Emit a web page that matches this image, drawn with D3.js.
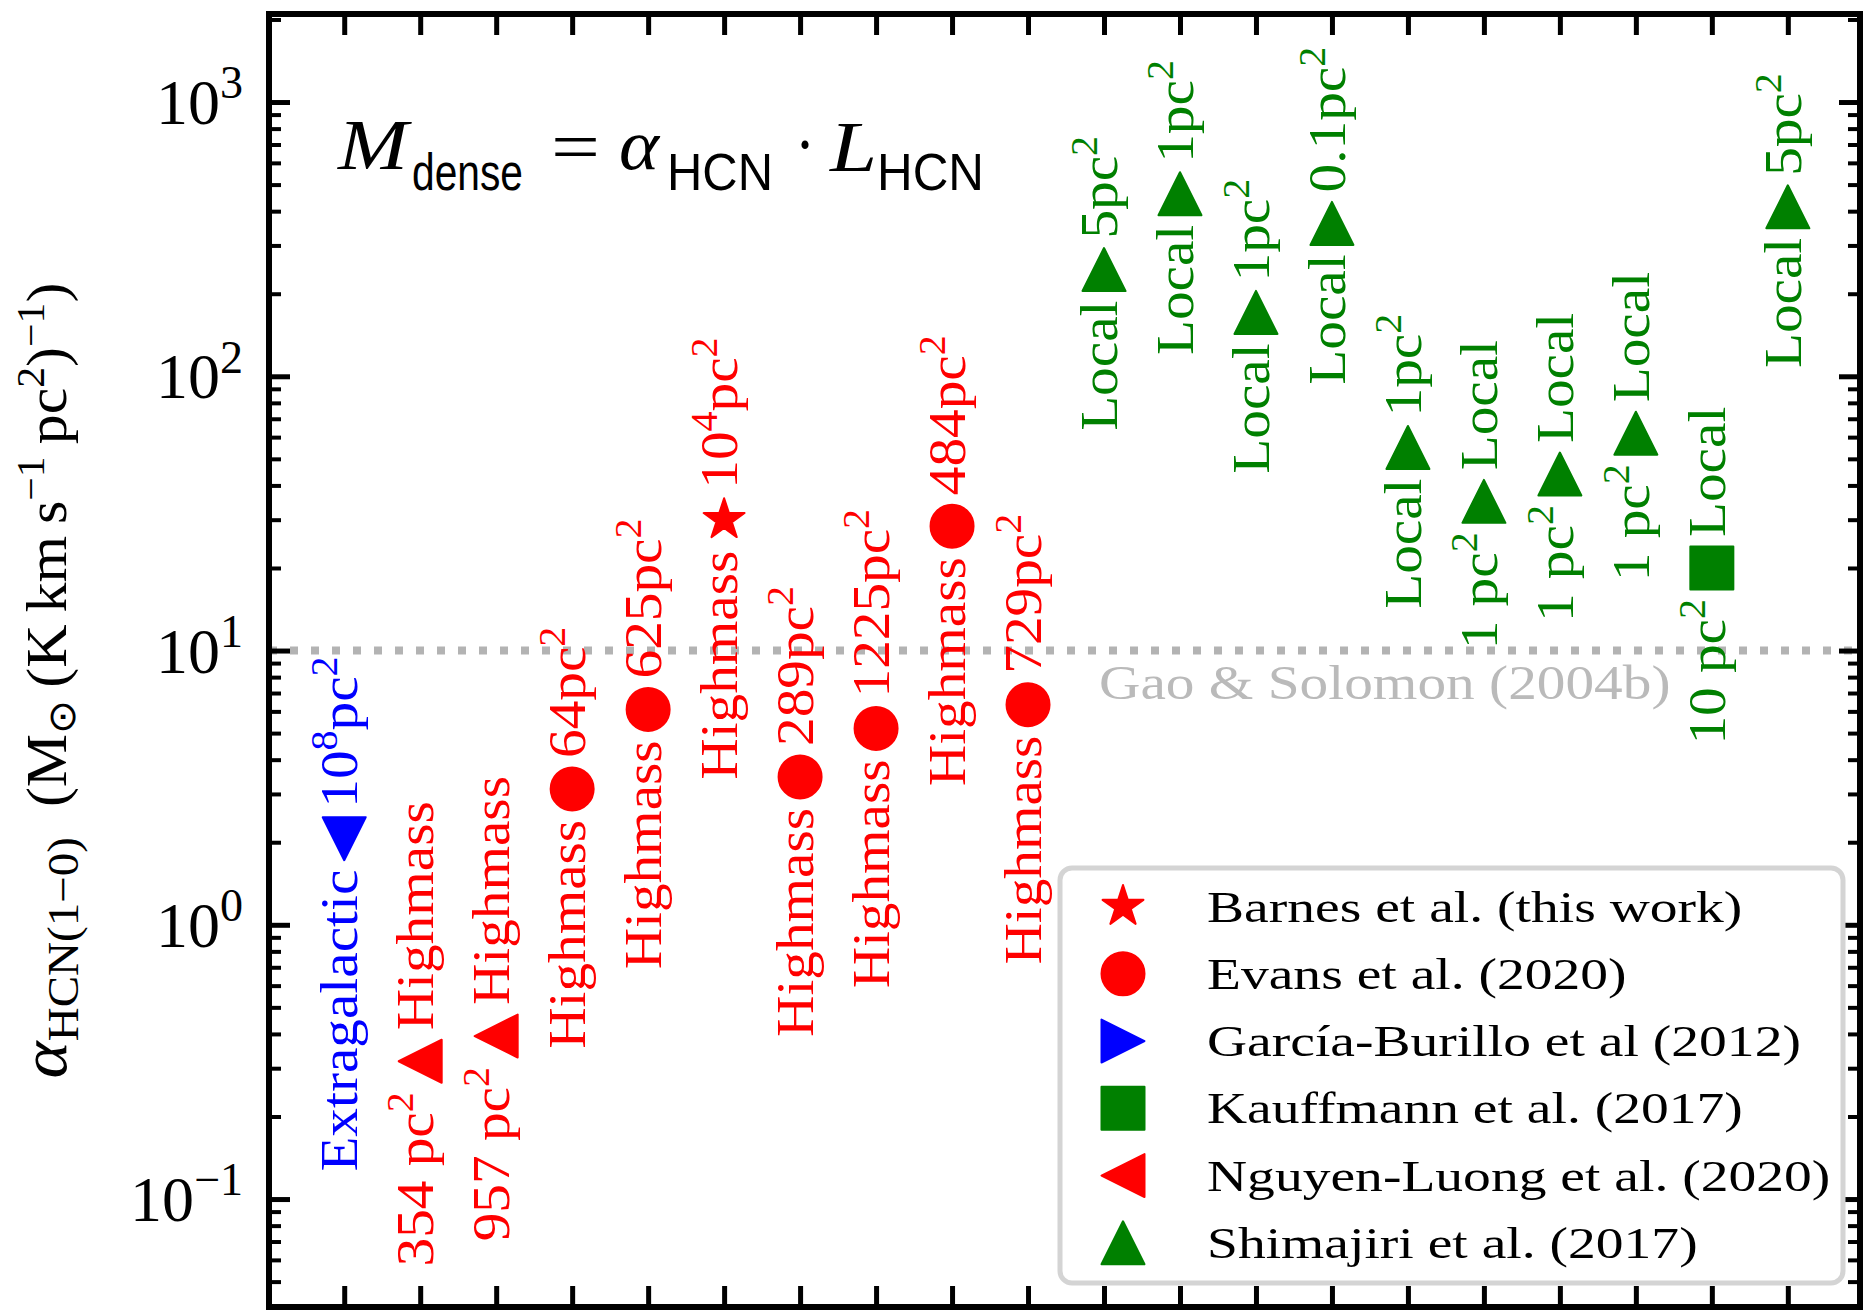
<!DOCTYPE html>
<html>
<head>
<meta charset="utf-8">
<script src="https://cdn.jsdelivr.net/npm/d3@7"></script>
<style>
  body { margin: 0; background: #fff; }
  svg { display: block; }
</style>
</head>
<body>
<svg id="chart" width="1863" height="1312"></svg>
<script>
// ---------------- data ----------------
// one slot per measurement along the (unlabelled) x axis
const slots = [0, 1, 2, 3, 4, 5, 6, 7, 8, 9, 10, 11, 12, 13, 14, 15, 16, 17, 18, 19];

// alpha_HCN(1-0) in Msun (K km s^-1 pc^2)^-1
const alphaHCN = [2.06, 0.318, 0.393, 3.13, 6.1, 30, 3.46, 5.2, 28.4, 6.35,
                  245, 463, 171, 361, 55, 35, 44, 62, 20, 415];

const pointShapes = ["down", "left", "left", "circle", "circle", "star", "circle", "circle", "circle", "circle",
                     "up", "up", "up", "up", "up", "up", "up", "up", "square", "up"];

const pointColors = ["#0000ff", "#ff0000", "#ff0000", "#ff0000", "#ff0000", "#ff0000", "#ff0000", "#ff0000", "#ff0000", "#ff0000",
                     "#008000", "#008000", "#008000", "#008000", "#008000", "#008000", "#008000", "#008000", "#008000", "#008000"];

// text written below and above each marker (^ marks a superscript)
const lowerLabels = ["Extragalactic", "354 pc^2", "957 pc^2", "Highmass", "Highmass", "Highmass", "Highmass", "Highmass", "Highmass", "Highmass",
                     "Local", "Local", "Local", "Local", "Local", "1 pc^2", "1 pc^2", "1 pc^2", "10 pc^2", "Local"];
const upperLabels = ["10^8pc^2", "Highmass", "Highmass", "64pc^2", "625pc^2", "10^4pc^2", "289pc^2", "1225pc^2", "484pc^2", "729pc^2",
                     "5pc^2", "1pc^2", "1pc^2", "0.1pc^2", "1pc^2", "Local", "Local", "Local", "Local", "5pc^2"];

const legendLabels = ["Barnes et al. (this work)", "Evans et al. (2020)", "García-Burillo et al (2012)",
                      "Kauffmann et al. (2017)", "Nguyen-Luong et al. (2020)", "Shimajiri et al. (2017)"];
const legendShapes = ["star", "circle", "right", "square", "left", "up"];
const legendColors = ["#ff0000", "#ff0000", "#0000ff", "#008000", "#ff0000", "#008000"];

const yMajorTicks = [0.1, 1, 10, 100, 1000];
const yTickLabels = ["10^{−1}", "10^0", "10^1", "10^2", "10^3"];

const referenceAlpha = 10;
const referenceLabel = "Gao & Solomon (2004b)";

// ---------------- layout ----------------
const SERIF = "'Liberation Serif', 'Times New Roman', serif";
const SANS = "'Liberation Sans', Arial, sans-serif";
const M = { left: 269, right: 1860, top: 14, bottom: 1307 };

const svg = d3.select("#chart");

const x = d3.scaleLinear().domain([-0.99, 19.95]).range([M.left, M.right]);
const y = d3.scaleLog().domain([0.0404, 2094]).range([M.bottom, M.top]);

// marker outlines centred on (0,0); s is the marker size in px
function markerPath(shape, s) {
  const h = s / 2;
  switch (shape) {
    case "circle": return `M${h},0A${h},${h} 0 1,1 ${-h},0A${h},${h} 0 1,1 ${h},0Z`;
    case "square": return `M${-h},${-h}H${h}V${h}H${-h}Z`;
    case "up":     return `M0,${-h}L${h},${h}L${-h},${h}Z`;
    case "down":   return `M0,${h}L${h},${-h}L${-h},${-h}Z`;
    case "left":   return `M${-h},0L${h},${-h}L${h},${h}Z`;
    case "right":  return `M${h},0L${-h},${-h}L${-h},${h}Z`;
    case "star": {
      const pts = [];
      for (let k = 0; k < 10; k++) {
        const r = k % 2 === 0 ? h : h * 0.381966;
        const a = -Math.PI / 2 + k * Math.PI / 5;
        pts.push([r * Math.cos(a), r * Math.sin(a)]);
      }
      return "M" + pts.map(p => p.join(",")).join("L") + "Z";
    }
  }
  return "";
}

// append plain / superscript runs to a text node; "^x" or "^{...}" is raised
function appendRich(textSel, str, size, supScale = 0.7, supRaise = 0.38) {
  const re = /\^(\{[^}]*\}|.)/g;
  let last = 0, m, raised = false;
  const plain = s => {
    if (!s) return;
    const t = textSel.append("tspan").text(s).attr("font-size", size);
    if (raised) { t.attr("dy", supRaise * size); raised = false; }
  };
  while ((m = re.exec(str)) !== null) {
    plain(str.slice(last, m.index));
    const sup = m[1].replace(/^\{/, "").replace(/\}$/, "");
    const t = textSel.append("tspan").text(sup).attr("font-size", size * supScale);
    if (!raised) t.attr("dy", -supRaise * size);
    raised = true;
    last = re.lastIndex;
  }
  plain(str.slice(last));
}

// ---------------- reference line ----------------
svg.append("line")
  .attr("x1", M.left).attr("x2", M.right)
  .attr("y1", y(referenceAlpha)).attr("y2", y(referenceAlpha))
  .attr("stroke", "#b3b3b3").attr("stroke-width", 8)
  .attr("stroke-dasharray", "8,13");

svg.append("text")
  .attr("transform", `translate(1099,${y(referenceAlpha) + 48}) scale(1.17,1)`)
  .attr("font-family", SERIF).attr("font-size", 49)
  .attr("fill", "#bababa")
  .text(referenceLabel);

// ---------------- markers ----------------
const MS = 43;
svg.append("g").selectAll("path")
  .data(slots)
  .join("path")
  .attr("transform", i => `translate(${x(slots[i])},${y(alphaHCN[i])})`)
  .attr("d", i => markerPath(pointShapes[i], MS))
  .attr("fill", i => pointColors[i])
  .attr("stroke", i => pointColors[i])
  .attr("stroke-width", 2)
  .attr("stroke-linejoin", "round");

// ---------------- rotated annotations ----------------
const ANN = 53, GAP = 31, ANN_SX = 1.08;
const annG = svg.append("g").attr("font-family", SERIF).attr("font-size", ANN);
slots.forEach(i => {
  const cx = x(slots[i]), cy = y(alphaHCN[i]);
  const lo = annG.append("text")
    .attr("transform", `translate(${cx},${cy + GAP}) rotate(-90) scale(${ANN_SX},1)`)
    .attr("y", 0.25 * ANN)
    .attr("text-anchor", "end")
    .attr("fill", pointColors[i]);
  appendRich(lo, lowerLabels[i], ANN);
  const up = annG.append("text")
    .attr("transform", `translate(${cx},${cy - GAP}) rotate(-90) scale(${ANN_SX},1)`)
    .attr("y", 0.25 * ANN)
    .attr("text-anchor", "start")
    .attr("fill", pointColors[i]);
  appendRich(up, upperLabels[i], ANN);
});

// ---------------- axes (inward ticks on all four sides) ----------------
const isMajor = v => Math.abs(Math.log10(v) - Math.round(Math.log10(v))) < 1e-9;
const yMinor = y.ticks().filter(v => !isMajor(v));

function styleAxis(g, width) {
  g.select(".domain").remove();
  g.selectAll(".tick line").attr("stroke", "#000").attr("stroke-width", width);
  g.selectAll(".tick text").remove();
}

svg.append("g").attr("transform", `translate(${M.left},0)`)
  .call(d3.axisLeft(y).tickValues(yMajorTicks).tickSize(-21).tickFormat(""))
  .call(g => styleAxis(g, 5));
svg.append("g").attr("transform", `translate(${M.left},0)`)
  .call(d3.axisLeft(y).tickValues(yMinor).tickSize(-12).tickFormat(""))
  .call(g => styleAxis(g, 4));
svg.append("g").attr("transform", `translate(${M.right},0)`)
  .call(d3.axisRight(y).tickValues(yMajorTicks).tickSize(-21).tickFormat(""))
  .call(g => styleAxis(g, 5));
svg.append("g").attr("transform", `translate(${M.right},0)`)
  .call(d3.axisRight(y).tickValues(yMinor).tickSize(-12).tickFormat(""))
  .call(g => styleAxis(g, 4));
svg.append("g").attr("transform", `translate(0,${M.bottom})`)
  .call(d3.axisBottom(x).tickValues(slots).tickSize(-21).tickFormat(""))
  .call(g => styleAxis(g, 5));
svg.append("g").attr("transform", `translate(0,${M.top})`)
  .call(d3.axisTop(x).tickValues(slots).tickSize(-21).tickFormat(""))
  .call(g => styleAxis(g, 5));

// frame
svg.append("rect")
  .attr("x", M.left).attr("y", M.top)
  .attr("width", M.right - M.left).attr("height", M.bottom - M.top)
  .attr("fill", "none").attr("stroke", "#000").attr("stroke-width", 6);

// y tick labels
const TICK = 64;
yMajorTicks.forEach((v, i) => {
  const t = svg.append("text")
    .attr("x", M.left - 26).attr("y", y(v) + 22)
    .attr("text-anchor", "end")
    .attr("font-family", SERIF).attr("font-size", TICK)
    .attr("fill", "#000");
  appendRich(t, yTickLabels[i], TICK, 0.72, 0.4);
});

// y axis title
const YL = 56;
const yl = svg.append("text")
  .attr("transform", `translate(66,${(M.top + M.bottom) / 2 + 20}) rotate(-90) scale(1.07,1)`)
  .attr("text-anchor", "middle")
  .attr("font-family", SERIF).attr("font-size", YL).attr("fill", "#000");
yl.append("tspan").text("α").attr("font-style", "italic").attr("font-size", 66);
yl.append("tspan").text("HCN(1−0)").attr("font-size", 44).attr("dy", 12);
yl.append("tspan").text("\u2002(M").attr("dy", -12);
yl.append("tspan").text("⊙").attr("font-size", 38).attr("dy", 9);
yl.append("tspan").text("\u2009(K\u2009km\u2009s").attr("dy", -9);
yl.append("tspan").text("−1").attr("font-size", 39).attr("dy", -22);
yl.append("tspan").text("\u2009pc").attr("dy", 22);
yl.append("tspan").text("2").attr("font-size", 39).attr("dy", -22);
yl.append("tspan").text(")").attr("dy", 22);
yl.append("tspan").text("−1").attr("font-size", 39).attr("dy", -22);
yl.append("tspan").text(")").attr("dy", 22);

// ---------------- formula ----------------
const formulaPieces = [
  { t: "M",     x: 338, w: 70,  fam: SERIF, italic: true,  size: 72, base: 169 },
  { t: "dense", x: 412, w: 111, fam: SANS,  italic: false, size: 52, base: 190 },
  { t: "=",     x: 551, w: 49,  fam: SERIF, italic: false, size: 72, base: 171 },
  { t: "α",     x: 619, w: 40,  fam: SERIF, italic: true,  size: 72, base: 169 },
  { t: "HCN",   x: 667, w: 106, fam: SANS,  italic: false, size: 52, base: 190 },
  { t: "·",     x: 795, w: 20,  fam: SERIF, italic: false, size: 72, base: 169 },
  { t: "L",     x: 830, w: 47,  fam: SERIF, italic: true,  size: 72, base: 171 },
  { t: "HCN",   x: 877, w: 107, fam: SANS,  italic: false, size: 52, base: 190 }
];
const fg = svg.append("g").attr("fill", "#000");
formulaPieces.forEach(p => {
  fg.append("text")
    .attr("x", p.x).attr("y", p.base)
    .attr("font-family", p.fam).attr("font-size", p.size)
    .attr("font-style", p.italic ? "italic" : "normal")
    .attr("textLength", p.w).attr("lengthAdjust", "spacingAndGlyphs")
    .text(p.t);
});

// ---------------- legend ----------------
const legY = d3.scaleLinear().domain([0, legendLabels.length - 1]).range([906.5, 1242.8]);
const lg = svg.append("g");
lg.append("rect")
  .attr("x", 1060).attr("y", 868).attr("width", 783).attr("height", 415)
  .attr("rx", 12).attr("ry", 12)
  .attr("fill", "#fff").attr("stroke", "#d4d4d4").attr("stroke-width", 5);
legendLabels.forEach((lab, i) => {
  lg.append("path")
    .attr("transform", `translate(1123,${legY(i)})`)
    .attr("d", markerPath(legendShapes[i], MS))
    .attr("fill", legendColors[i]).attr("stroke", legendColors[i])
    .attr("stroke-width", 2).attr("stroke-linejoin", "round");
  lg.append("text")
    .attr("transform", `translate(1207,${legY(i) + 15}) scale(1.235,1)`)
    .attr("font-family", SERIF).attr("font-size", 45).attr("fill", "#000")
    .text(lab);
});
</script>
</body>
</html>
